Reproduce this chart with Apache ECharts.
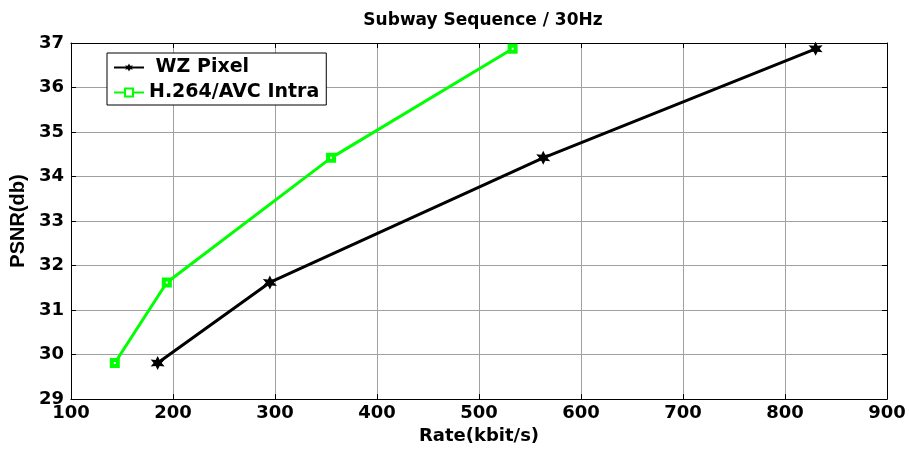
<!DOCTYPE html>
<html>
<head>
<meta charset="utf-8">
<script src="https://cdn.jsdelivr.net/npm/echarts@6/dist/echarts.min.js"></script>
<style>
  html, body { margin: 0; padding: 0; background: #fff; }
  #chart { width: 909px; height: 450px; }
</style>
</head>
<body>
<div id="chart"></div>
<script>
// Rate (kbit/s) and PSNR (dB) for each coder
const wzRate = [185, 295, 563, 830];
const wzPsnr = [29.81, 31.62, 34.42, 36.87];
const avcRate = [143, 194, 355, 533];
const avcPsnr = [29.81, 31.62, 34.42, 36.87];

const seriesNames = ['WZ Pixel', 'H.264/AVC Intra'];
const titleText = 'Subway Sequence / 30Hz';
const xName = 'Rate(kbit/s)';
const yName = 'PSNR(db)';

const WIDE = '"DejaVu Sans", Verdana, sans-serif';
const ARIAL = '"Liberation Sans", Arial, sans-serif';

// six-pointed star marker
const hexagram = 'path://M100 0 L125 56.7 L186.6 50 L150 100 L186.6 150 L125 143.3 L100 200 L75 143.3 L13.4 150 L50 100 L13.4 50 L75 56.7 Z';

const pairs = (xs, ys) => xs.map((x, i) => [x, ys[i]]);

const chart = echarts.init(document.getElementById('chart'));

const axisCommon = {
  axisLine: { show: true, onZero: false, lineStyle: { color: '#000', width: 1 } },
  axisTick: { show: true, inside: true, length: 5, lineStyle: { color: '#000' } }
};
const tickFont = { fontFamily: WIDE, fontSize: 18, fontWeight: 'bold', color: '#000' };

chart.setOption({
  animation: false,
  backgroundColor: '#fff',
  title: {
    text: titleText,
    left: 478,
    textAlign: 'center',
    top: 7,
    textStyle: { fontFamily: WIDE, fontSize: 17, fontWeight: 'bold', color: '#000' }
  },
  legend: {
    left: 107,
    top: 53,
    orient: 'vertical',
    backgroundColor: '#fff',
    borderColor: '#000',
    borderWidth: 1,
    padding: [5, 7, 3, 6],
    itemGap: 6,
    itemWidth: 30,
    itemHeight: 10,
    formatter: (name) => name === seriesNames[0] ? ' ' + name : name,
    textStyle: { fontFamily: WIDE, fontSize: 19, fontWeight: 'bold', color: '#000' },
    data: seriesNames
  },
  grid: { left: 70, right: 22, top: 43, bottom: 44, containLabel: false },
  xAxis: [
    Object.assign({
      type: 'value', min: 100, max: 900, interval: 100,
      name: xName, nameLocation: 'middle', nameGap: 24,
      nameTextStyle: { fontFamily: WIDE, fontSize: 18, fontWeight: 'bold', color: '#000' },
      axisLabel: Object.assign({ margin: 5 }, tickFont),
      splitLine: { show: true, lineStyle: { color: '#a0a0a0', width: 1 } }
    }, axisCommon),
    Object.assign({
      type: 'value', min: 100, max: 900, interval: 100, position: 'top',
      axisLabel: { show: false }, splitLine: { show: false }
    }, axisCommon)
  ],
  yAxis: [
    Object.assign({
      type: 'value', min: 29, max: 37, interval: 1,
      name: yName, nameLocation: 'middle', nameGap: 38, nameRotate: 90,
      nameTextStyle: { fontFamily: ARIAL, fontSize: 20, fontWeight: 'bold', color: '#000' },
      axisLabel: Object.assign({ margin: 7 }, tickFont),
      splitLine: { show: true, lineStyle: { color: '#a0a0a0', width: 1 } }
    }, axisCommon),
    Object.assign({
      type: 'value', min: 29, max: 37, interval: 1, position: 'right',
      axisLabel: { show: false }, splitLine: { show: false }
    }, axisCommon)
  ],
  series: [
    {
      name: seriesNames[0],
      type: 'line',
      data: pairs(wzRate, wzPsnr),
      lineStyle: { color: '#000', width: 3 },
      itemStyle: { color: '#000' },
      symbol: hexagram,
      symbolSize: 14,
      z: 3
    },
    {
      name: seriesNames[1],
      type: 'line',
      data: pairs(avcRate, avcPsnr),
      lineStyle: { color: '#00ff00', width: 3 },
      itemStyle: { color: '#fff', borderColor: '#00ff00', borderWidth: 4 },
      symbol: 'rect',
      symbolSize: 6,
      z: 4
    }
  ]
});
</script>
</body>
</html>
